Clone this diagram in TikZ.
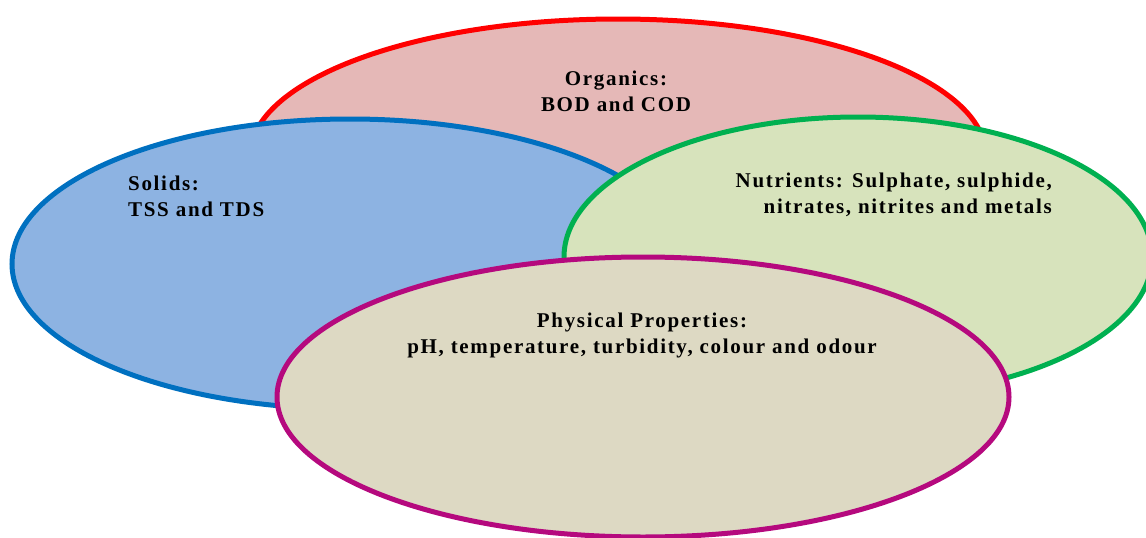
\documentclass[tikz,border=0pt]{standalone}
\usepackage{fontspec}
\newfontfamily\rotulo{Liberation Serif}[LetterSpace=8]

\definecolor{rojoborde}{HTML}{FF0000}
\definecolor{rojofondo}{HTML}{E5B8B7}
\definecolor{azulborde}{HTML}{0070C0}
\definecolor{azulfondo}{HTML}{8DB3E2}
\definecolor{verdeborde}{HTML}{00B050}
\definecolor{verdefondo}{HTML}{D7E3BC}
\definecolor{moradoborde}{HTML}{B5097E}
\definecolor{moradofondo}{HTML}{DDD9C3}

\begin{document}
\begin{tikzpicture}[x=1pt, y=-1pt,
		elipse/.style={line width=5pt},
		texto/.style={font=\rotulo\bfseries\fontsize{21}{25.5}\selectfont, inner sep=0pt, anchor=base}]
		\useasboundingbox (0,0) rectangle (1146,538); % margenes

		% Elipses ------------------------------------------------------------------
		\draw[elipse, draw=rojoborde, fill=rojofondo] (618,156) ellipse [x radius=368, y radius=137]; % organicos
		\draw[elipse, draw=azulborde, fill=azulfondo] (350,264) ellipse [x radius=338, y radius=145]; % solidos
		\draw[elipse, draw=verdeborde, fill=verdefondo] (858,257) ellipse [x radius=294, y radius=140]; % nutrientes
		\draw[elipse, draw=moradoborde, fill=moradofondo] (643,397) ellipse [x radius=366, y radius=140]; % propiedades fisicas

		% Textos (el ancla base es la de la ultima linea) ----------------------------
		\node[texto, align=center] (organicos) at (616,111) {Organics:\\BOD and COD};
		\node[texto, align=left, anchor=base west] (solidos) at (128,216) {Solids:\\TSS and TDS};
		\node[texto, align=right, anchor=base east] (nutrientes) at (1052,213) {Nutrients: Sulphate, sulphide,\\nitrates, nitrites and metals};
		\node[texto, align=center] (fisicas) at (642,353) {Physical Properties:\\pH, temperature, turbidity, colour and odour};
	\end{tikzpicture}
\end{document}
